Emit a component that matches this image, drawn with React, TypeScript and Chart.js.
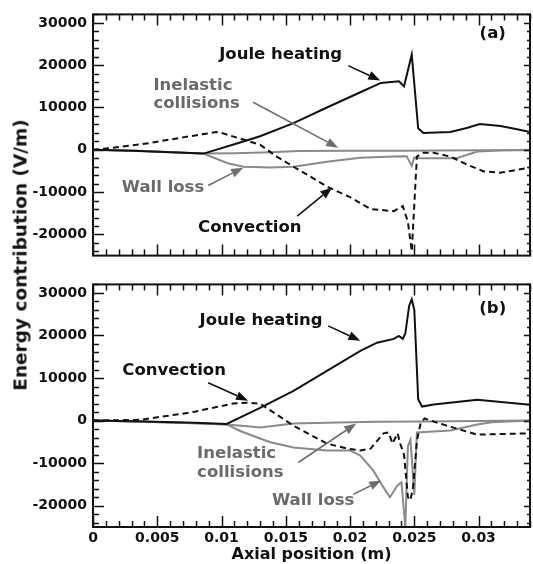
import React, { useEffect, useRef } from 'react';
import { Chart, registerables } from 'chart.js';

Chart.register(...registerables);

const FONT = '"DejaVu Sans", "Liberation Sans", sans-serif';
const BLACK = '#111111';
const GRAY_LINE = '#8a8a8a';
const GRAY_TEXT = '#6a6a6a';
const GRAY_ARROW = '#6e6e6e';

// Axis ranges and tick labels
const X_MIN = 0;
const X_MAX = 0.034;
const Y_MIN = -25000;
const Y_MAX = 32000;
const xTicks = [0, 0.005, 0.01, 0.015, 0.02, 0.025, 0.03];
const yTicks = [-20000, -10000, 0, 10000, 20000, 30000];

// ---------------- Panel (a) ----------------
const jouleA_x = [0, 0.003, 0.006, 0.0086, 0.011, 0.013, 0.0156, 0.0182, 0.0208, 0.0224, 0.0238, 0.0242, 0.0248, 0.0253, 0.0257, 0.0278, 0.029, 0.0301, 0.0317, 0.0329, 0.034];
const jouleA_y = [0, -200, -600, -900, 1300, 3200, 6300, 10000, 13600, 15800, 16200, 15000, 22500, 5100, 4000, 4200, 5100, 6100, 5600, 4900, 4200];

const convA_x = [0, 0.0013, 0.0044, 0.0071, 0.0096, 0.01, 0.013, 0.0143, 0.0156, 0.0169, 0.0182, 0.02, 0.0216, 0.0234, 0.0241, 0.0245, 0.0248, 0.0252, 0.0257, 0.0265, 0.0278, 0.0291, 0.0304, 0.0317, 0.034];
const convA_y = [0, 400, 1600, 3000, 4200, 4000, 1200, -1600, -4000, -6300, -8700, -11200, -14000, -14500, -13300, -17000, -24000, -1600, -700, -700, -1600, -3500, -5100, -5400, -4200];

const inelA_x = [0, 0.004, 0.0086, 0.011, 0.0138, 0.016, 0.02, 0.024, 0.03, 0.034];
const inelA_y = [0, -300, -900, -800, -600, -300, -250, -200, -100, -100];

const wallA_x = [0, 0.004, 0.0086, 0.0095, 0.0105, 0.0117, 0.0138, 0.0156, 0.0182, 0.0208, 0.0234, 0.0244, 0.0248, 0.025, 0.0253, 0.0283, 0.0299, 0.032, 0.034];
const wallA_y = [0, -300, -900, -2000, -3200, -4000, -4200, -4000, -2800, -1900, -1600, -1500, -3800, -1800, -2000, -2000, -400, -100, 0];

// ---------------- Panel (b) ----------------
const jouleB_x = [0, 0.004, 0.0079, 0.0104, 0.013, 0.0156, 0.0182, 0.0208, 0.0221, 0.0234, 0.0238, 0.0241, 0.0243, 0.0246, 0.0248, 0.025, 0.0253, 0.0256, 0.0265, 0.0299, 0.034];
const jouleB_y = [0, -200, -500, -800, 3000, 7000, 11700, 16400, 18300, 19200, 19900, 19200, 20500, 27000, 28500, 26000, 5000, 3300, 3800, 4900, 3700];

const convB_x = [0, 0.0037, 0.0076, 0.0109, 0.012, 0.013, 0.0156, 0.0182, 0.0198, 0.0208, 0.0216, 0.0226, 0.023, 0.0233, 0.0237, 0.0239, 0.0242, 0.0245, 0.0247, 0.0249, 0.0252, 0.0255, 0.0258, 0.0268, 0.0283, 0.0299, 0.034];
const convB_y = [0, 200, 1900, 4000, 4200, 4000, -1200, -5400, -6600, -7000, -6600, -3000, -2800, -5400, -3000, -5400, -8000, -18000, -18700, -15700, -4700, -500, 500, -500, -1900, -3300, -3000];

const inelB_x = [0, 0.004, 0.0079, 0.0104, 0.0122, 0.013, 0.0156, 0.0182, 0.022, 0.026, 0.03, 0.034];
const inelB_y = [0, -300, -600, -900, -1400, -1600, -700, -500, -300, -200, -100, 0];

const wallB_x = [0, 0.004, 0.0079, 0.0104, 0.0115, 0.013, 0.0138, 0.0156, 0.0182, 0.02, 0.0208, 0.0218, 0.0226, 0.0231, 0.0237, 0.024, 0.0243, 0.0245, 0.0247, 0.025, 0.0252, 0.0278, 0.0299, 0.031, 0.034];
const wallB_y = [0, -300, -600, -900, -2500, -4200, -5100, -6300, -7000, -7000, -8200, -11700, -15700, -18000, -15200, -14500, -25000, -6000, -4500, -17500, -2800, -2300, -900, -400, 0];

type Series = { x: number[]; y: number[]; color: string; dash: boolean };
type Label = { text: string; x: number; y: number; color: string; align: CanvasTextAlign };
type Arrow = { x1: number; y1: number; x2: number; y2: number; color: string };

const seriesA: Series[] = [
  { x: jouleA_x, y: jouleA_y, color: BLACK, dash: false },
  { x: convA_x, y: convA_y, color: BLACK, dash: true },
  { x: inelA_x, y: inelA_y, color: GRAY_LINE, dash: false },
  { x: wallA_x, y: wallA_y, color: GRAY_LINE, dash: false },
];
const seriesB: Series[] = [
  { x: jouleB_x, y: jouleB_y, color: BLACK, dash: false },
  { x: convB_x, y: convB_y, color: BLACK, dash: true },
  { x: inelB_x, y: inelB_y, color: GRAY_LINE, dash: false },
  { x: wallB_x, y: wallB_y, color: GRAY_LINE, dash: false },
];

const labelsA: Label[] = [
  { text: 'Joule heating', x: 0.0146, y: 22500, color: BLACK, align: 'center' },
  { text: 'Inelastic', x: 0.0047, y: 15200, color: GRAY_TEXT, align: 'left' },
  { text: 'collisions', x: 0.0047, y: 11000, color: GRAY_TEXT, align: 'left' },
  { text: 'Wall loss', x: 0.00545, y: -8900, color: GRAY_TEXT, align: 'center' },
  { text: 'Convection', x: 0.0122, y: -18300, color: BLACK, align: 'center' },
  { text: '(a)', x: 0.0311, y: 27400, color: BLACK, align: 'center' },
];
const arrowsA: Arrow[] = [
  { x1: 0.01986, y1: 19900, x2: 0.02235, y2: 16390, color: BLACK },
  { x1: 0.01246, y1: 11240, x2: 0.01908, y2: 470, color: GRAY_ARROW },
  { x1: 0.00896, y1: -8430, x2: 0.01168, y2: -4220, color: GRAY_ARROW },
  { x1: 0.01589, y1: -15690, x2: 0.01861, y2: -8900, color: BLACK },
];
const labelsB: Label[] = [
  { text: 'Joule heating', x: 0.01308, y: 23420, color: BLACK, align: 'center' },
  { text: 'Convection', x: 0.00631, y: 11710, color: BLACK, align: 'center' },
  { text: 'Inelastic', x: 0.0081, y: -7730, color: GRAY_TEXT, align: 'left' },
  { text: 'collisions', x: 0.0081, y: -12180, color: GRAY_TEXT, align: 'left' },
  { text: 'Wall loss', x: 0.01713, y: -18740, color: GRAY_TEXT, align: 'center' },
  { text: '(b)', x: 0.0311, y: 26230, color: BLACK, align: 'center' },
];
const arrowsB: Arrow[] = [
  { x1: 0.0183, y1: 22250, x2: 0.0208, y2: 18740, color: BLACK },
  { x1: 0.00896, y1: 8900, x2: 0.01207, y2: 4680, color: BLACK },
  { x1: 0.01597, y1: -9840, x2: 0.02048, y2: -700, color: GRAY_ARROW },
  { x1: 0.02025, y1: -17330, x2: 0.02243, y2: -14050, color: GRAY_ARROW },
];

const fmtX = (v: number) => String(parseFloat(Number(v).toFixed(4)));

const framePlugin = {
  id: 'frameTicks',
  afterDraw(chart: any) {
    const { ctx, chartArea } = chart;
    const { left, right, top, bottom } = chartArea;
    const xs = chart.scales.x;
    const ys = chart.scales.y;
    ctx.save();
    ctx.strokeStyle = BLACK;
    ctx.lineWidth = 1.5;
    ctx.beginPath();
    for (let i = 0; i <= 34; i++) {
      const v = i * 0.001;
      const px = Math.round(xs.getPixelForValue(v)) + 0.5;
      const major = i % 5 === 0;
      const len = major ? 11 : 6;
      ctx.moveTo(px, bottom);
      ctx.lineTo(px, bottom - len);
      ctx.moveTo(px, top);
      ctx.lineTo(px, top + len);
    }
    for (let v = -24000; v <= 32000; v += 2000) {
      const py = Math.round(ys.getPixelForValue(v)) + 0.5;
      const major = v % 10000 === 0;
      ctx.moveTo(left, py);
      ctx.lineTo(left + (major ? 11 : 6), py);
      ctx.moveTo(right, py);
      ctx.lineTo(right - (major ? 6 : 3), py);
    }
    ctx.stroke();
    ctx.lineWidth = 2;
    ctx.strokeRect(left, top, right - left, bottom - top);
    ctx.restore();
  },
};

function makeAnnotPlugin(labels: Label[], arrows: Arrow[]) {
  return {
    id: 'annot',
    afterDatasetsDraw(chart: any) {
      const { ctx } = chart;
      const xs = chart.scales.x;
      const ys = chart.scales.y;
      ctx.save();
      arrows.forEach((a) => {
        const x1 = xs.getPixelForValue(a.x1);
        const y1 = ys.getPixelForValue(a.y1);
        const x2 = xs.getPixelForValue(a.x2);
        const y2 = ys.getPixelForValue(a.y2);
        const ang = Math.atan2(y2 - y1, x2 - x1);
        const hl = 12;
        const hw = 4.5;
        const bx = x2 - hl * Math.cos(ang);
        const by = y2 - hl * Math.sin(ang);
        ctx.strokeStyle = a.color;
        ctx.fillStyle = a.color;
        ctx.lineWidth = 1.6;
        ctx.beginPath();
        ctx.moveTo(x1, y1);
        ctx.lineTo(bx, by);
        ctx.stroke();
        ctx.beginPath();
        ctx.moveTo(x2, y2);
        ctx.lineTo(bx + hw * Math.sin(ang), by - hw * Math.cos(ang));
        ctx.lineTo(bx - hw * Math.sin(ang), by + hw * Math.cos(ang));
        ctx.closePath();
        ctx.fill();
      });
      ctx.font = `bold 16.5px ${FONT}`;
      ctx.textBaseline = 'middle';
      labels.forEach((l) => {
        ctx.fillStyle = l.color;
        ctx.textAlign = l.align;
        ctx.fillText(l.text, xs.getPixelForValue(l.x), ys.getPixelForValue(l.y));
      });
      ctx.restore();
    },
  };
}

type PanelProps = { series: Series[]; labels: Label[]; arrows: Arrow[]; showX: boolean; height: number };

function Panel({ series, labels, arrows, showX, height }: PanelProps) {
  const ref = useRef<HTMLCanvasElement>(null);
  useEffect(() => {
    const chart = new Chart(ref.current as HTMLCanvasElement, {
      type: 'line',
      data: {
        datasets: series.map((s) => ({
          data: s.x.map((xv, i) => ({ x: xv, y: s.y[i] })),
          borderColor: s.color,
          borderWidth: 2,
          borderDash: s.dash ? [6, 4] : [],
          pointRadius: 0,
          tension: 0,
          fill: false,
        })),
      },
      options: {
        responsive: false,
        animation: false,
        devicePixelRatio: 1,
        layout: { padding: { top: 13, right: 3, bottom: showX ? 0 : 13, left: 0 } },
        plugins: { legend: { display: false }, tooltip: { enabled: false } },
        scales: {
          x: {
            type: 'linear',
            min: X_MIN,
            max: X_MAX,
            grid: { display: false, drawTicks: false },
            border: { display: false },
            ticks: {
              display: showX,
              padding: 3,
              autoSkip: false,
              maxRotation: 0,
              color: BLACK,
              font: { family: FONT, weight: 'bold', size: 14 },
              callback: (v: any) => fmtX(v),
            },
            afterBuildTicks: (s: any) => {
              s.ticks = xTicks.map((v) => ({ value: v }));
            },
            afterFit: (s: any) => {
              s.height = showX ? 37 : 0;
            },
            title: {
              display: showX,
              text: 'Axial position (m)',
              color: BLACK,
              font: { family: FONT, weight: 'bold', size: 16 },
              padding: 0,
            },
          },
          y: {
            type: 'linear',
            min: Y_MIN,
            max: Y_MAX,
            grid: { display: false, drawTicks: false },
            border: { display: false },
            ticks: {
              padding: 6,
              color: BLACK,
              font: { family: FONT, weight: 'bold', size: 14 },
              callback: (v: any) => String(v),
            },
            afterBuildTicks: (s: any) => {
              s.ticks = yTicks.map((v) => ({ value: v }));
            },
            afterFit: (s: any) => {
              s.width = 93;
            },
          },
        },
      } as any,
      plugins: [framePlugin, makeAnnotPlugin(labels, arrows)],
    });
    return () => chart.destroy();
  }, []);
  return <canvas ref={ref} width={533} height={height} style={{ display: 'block' }} />;
}

export default function App() {
  return (
    <div style={{ position: 'absolute', left: 0, top: 0, width: 533, height: 564, background: '#fff', overflow: 'hidden' }}>
      <div style={{ position: 'absolute', left: 0, top: 0 }}>
        <Panel series={seriesA} labels={labelsA} arrows={arrowsA} showX={false} height={270} />
      </div>
      <div style={{ position: 'absolute', left: 0, top: 270 }}>
        <Panel series={seriesB} labels={labelsB} arrows={arrowsB} showX={true} height={294} />
      </div>
      <div
        style={{
          position: 'absolute',
          left: 20,
          top: 255,
          transform: 'translate(-50%, -50%) rotate(-90deg)',
          font: `bold 18.5px ${FONT}`,
          whiteSpace: 'nowrap',
          color: BLACK,
        }}
      >
        Energy contribution (V/m)
      </div>
    </div>
  );
}
